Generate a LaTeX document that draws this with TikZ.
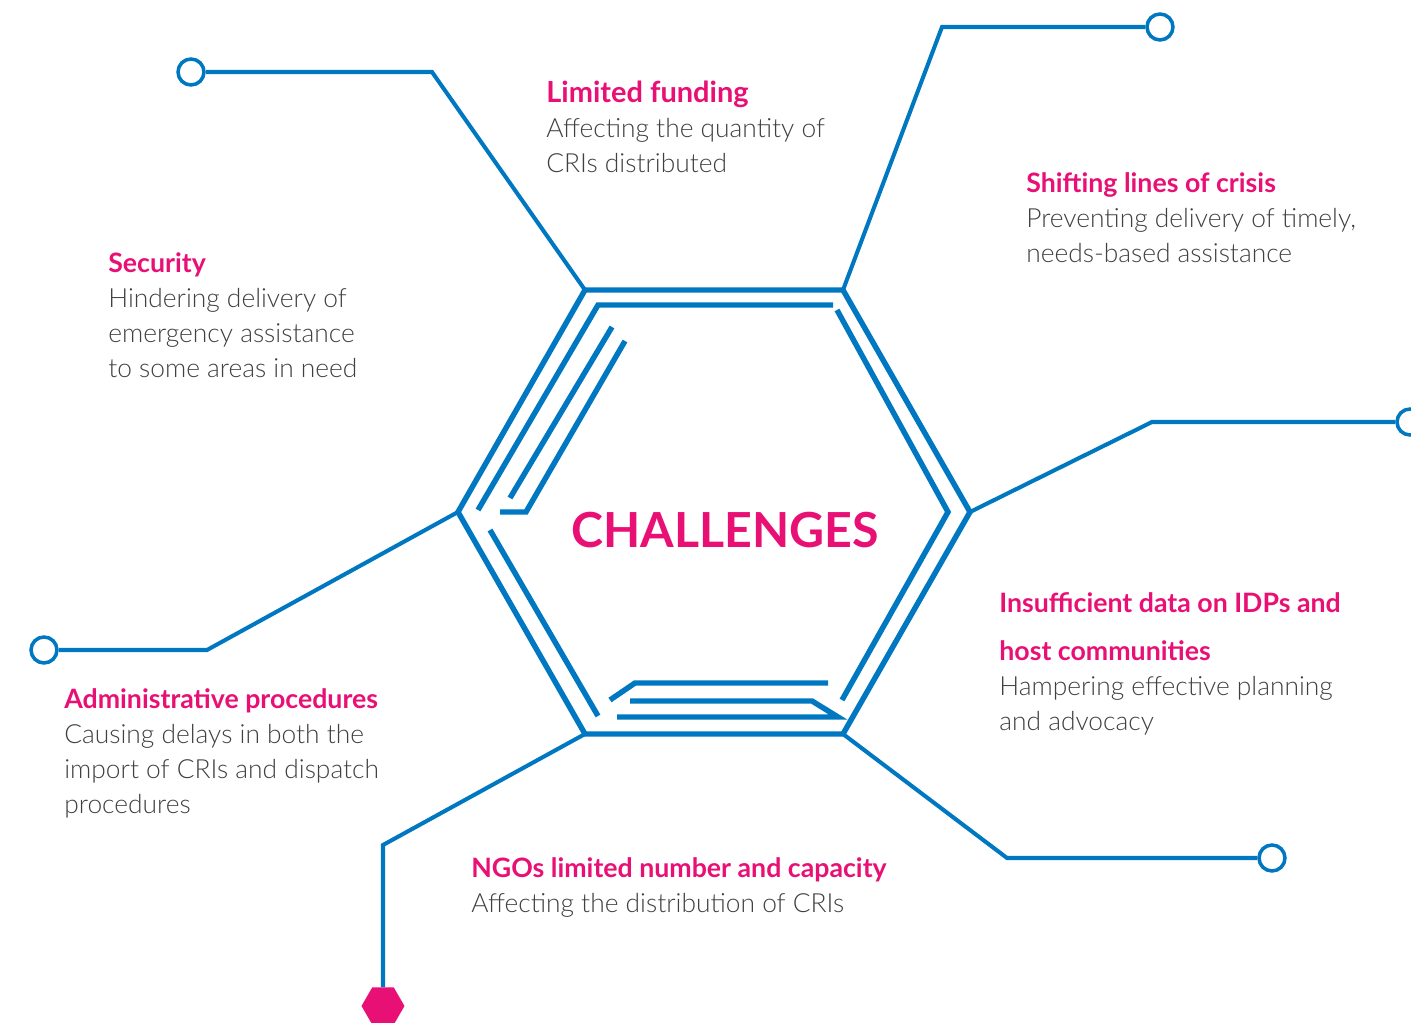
\documentclass[tikz,border=0pt]{standalone}
\usepackage{fontspec}
\setmainfont{Lato}
\newfontfamily\lightfont{Lato Light}
\usetikzlibrary{shapes.geometric}

\definecolor{hexblue}{RGB}{0,120,193}
\definecolor{hexpink}{RGB}{233,16,117}
\definecolor{bodygray}{RGB}{64,64,64}

\newcommand\headline[2][15.2]{{\normalfont\bfseries\fontsize{#1}{19.9}\selectfont\color{hexpink}#2}}

\begin{document}
\begin{tikzpicture}[x=0.02cm,y=-0.02cm]
      \useasboundingbox (0,0) rectangle (1411,1023);

      \tikzset{
        hexline/.style={draw=hexblue,line width=3.1pt},
        linkline/.style={draw=hexblue,line width=2.3pt},
        endpoint/.style={circle,draw=hexblue,line width=2pt,fill=white,
          minimum size=0.52cm,inner sep=0pt},
        blurb/.style={anchor=north west,align=left,inner sep=0pt,text=bodygray,
          font=\lightfont\fontsize{15}{19.9}\selectfont}
      }

      % corners of the big hexagon
      \coordinate (tl) at (585,290);
      \coordinate (tr) at (843,290);
      \coordinate (r)  at (970,512);
      \coordinate (br) at (843,734);
      \coordinate (bl) at (585,734);
      \coordinate (l)  at (458,512);

      % knees of the connectors
      \coordinate (k1) at (432,72);
      \coordinate (k2) at (942,27);
      \coordinate (k3) at (1152,422);
      \coordinate (k4) at (1007,858);
      \coordinate (k5) at (383,845);
      \coordinate (k6) at (207,650);

      \path[hexline] (tl) -- (tr) -- (r) -- (br) -- (bl) -- (l) -- cycle;
      \path[hexline] (833,305) -- (598,305) -- (478,510);
      \path[hexline] (612,327) -- (510,498);
      \path[hexline] (625,341) -- (526,512) -- (500,512);
      \path[hexline] (490,530) -- (598,716);
      \path[hexline] (610,700) -- (635,683) -- (828,683);
      \path[hexline] (630,701) -- (812,701) -- (838,717) -- (617,717);
      \path[hexline] (837,310) -- (948,512) -- (842,700);

      \begin{scope}[every node/.style={endpoint}]
        \node (1) at (191,72)   {};
        \node (2) at (1160,27)  {};
        \node (3) at (1410,422) {};
        \node (4) at (1272,858) {};
        \node (6) at (44,650)   {};
      \end{scope}
      \node[regular polygon,regular polygon sides=6,fill=hexpink,
        minimum size=0.86cm,inner sep=0pt] (5) at (383,1006) {};

      \path[linkline] (tl) -- (k1) -- (1);
      \path[linkline] (tr) -- (k2) -- (2);
      \path[linkline] (r)  -- (k3) -- (3);
      \path[linkline] (br) -- (k4) -- (4);
      \path[linkline] (bl) -- (k5) -- (5);
      \path[linkline] (l)  -- (k6) -- (6);

      \node[text=hexpink,font=\bfseries\fontsize{27.5}{30}\selectfont] (ch) at (725,530) {CHALLENGES};

      \begin{scope}[every node/.style={blurb}]
        \node (fund) at (546,81)  {\headline[16.5]{Limited funding}\\
          Affecting the quantity of\\ CRIs distributed};
        \node (shift) at (1026,172) {\headline{Shifting lines of crisis}\\
          Preventing delivery of timely,\\ needs-based assistance};
        \node (sec) at (108,252) {\headline{Security}\\ Hindering delivery of\\
          emergency assistance\\ to some areas in need};
        \node (data) at (999,592) {\headline{Insufficient data on IDPs and}\\[0.26cm]
          \headline{host communities}\\ Hampering effective planning\\ and advocacy};
        \node (admin) at (64,688) {\headline{Administrative procedures}\\
          Causing delays in both the\\ import of CRIs and dispatch\\ procedures};
        \node (ngo) at (471,857) {\headline{NGOs limited number and capacity}\\
          Affecting the distribution of CRIs};
      \end{scope}

    \end{tikzpicture}
\end{document}
